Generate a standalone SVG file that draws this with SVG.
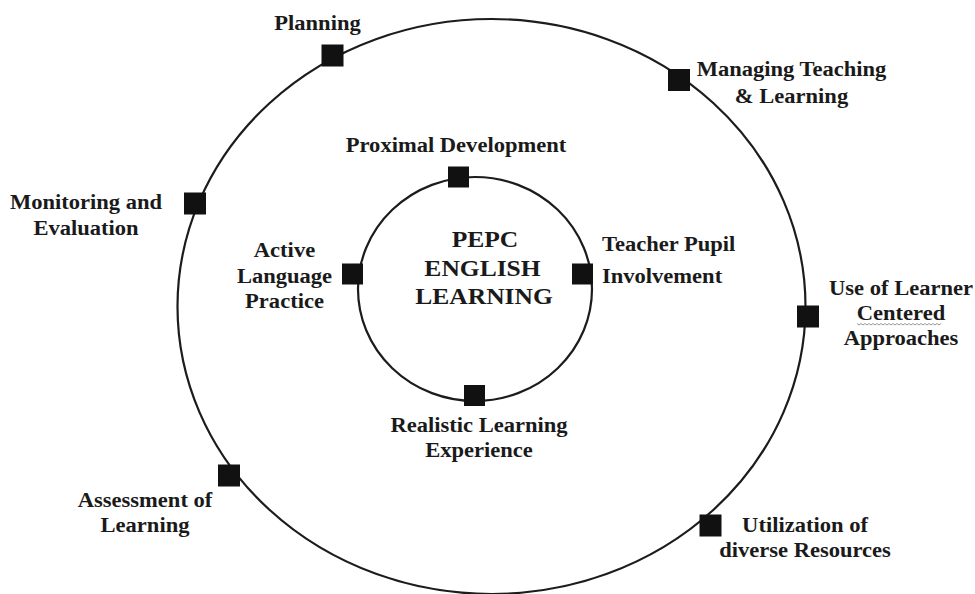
<svg xmlns="http://www.w3.org/2000/svg" width="975" height="594" viewBox="0 0 975 594">
<style>
  .ring { fill: none; stroke: #1c1c1c; stroke-width: 2.2; }
  .sq { fill: #111; }
  .lbl { font-family: "Liberation Serif", "Times New Roman", serif; font-weight: bold; font-size: 20.5px; fill: #1a1a1a; }
  .mid { text-anchor: middle; }
  .title { font-family: "Liberation Serif", "Times New Roman", serif; font-weight: bold; font-size: 23px; fill: #1a1a1a; text-anchor: middle; }
  .squig { fill: none; stroke: #8a8a8a; stroke-width: 0.9; }
</style>
<rect width="975" height="594" fill="#fff"/>
<g id="connectors">
  <ellipse class="ring" cx="491.5" cy="306.5" rx="314" ry="287.5"/>
  <ellipse class="ring" cx="475" cy="289" rx="117" ry="112"/>
</g>
<g id="center">
  <text class="title" transform="translate(485,0) scale(1.11,1)"><tspan x="0" y="247">PEPC</tspan></text>
  <text class="title" transform="translate(482.5,0) scale(1.11,1)"><tspan x="0" y="276">ENGLISH</tspan></text>
  <text class="title" transform="translate(484,0) scale(1.11,1)"><tspan x="0" y="304">LEARNING</tspan></text>
</g>
<g id="planning">
  <rect class="sq" x="321.5" y="44.5" width="22" height="22"/>
  <text class="lbl mid" transform="translate(317.5,0) scale(1.1,1)"><tspan x="0" y="30">Planning</tspan></text>
</g>
<g id="managing">
  <rect class="sq" x="668" y="69" width="22" height="22"/>
  <text class="lbl mid" transform="translate(791.5,0) scale(1.1,1)"><tspan x="0" y="76">Managing Teaching</tspan><tspan x="0" y="103">&amp; Learning</tspan></text>
</g>
<g id="monitoring">
  <rect class="sq" x="184" y="192.5" width="22" height="22"/>
  <text class="lbl mid" transform="translate(86,0) scale(1.1,1)"><tspan x="0" y="209">Monitoring and</tspan><tspan x="0" y="235">Evaluation</tspan></text>
</g>
<g id="learner-centered">
  <rect class="sq" x="797" y="305.5" width="22" height="22"/>
  <text class="lbl mid" transform="translate(901,0) scale(1.1,1)"><tspan x="0" y="295">Use of Learner</tspan><tspan x="0" y="320">Centered</tspan><tspan x="0" y="345">Approaches</tspan></text>
  <path class="squig" d="M857,323.5 l2,1.5 l2,-1.5 l2,1.5 l2,-1.5 l2,1.5 l2,-1.5 l2,1.5 l2,-1.5 l2,1.5 l2,-1.5 l2,1.5 l2,-1.5 l2,1.5 l2,-1.5 l2,1.5 l2,-1.5 l2,1.5 l2,-1.5 l2,1.5 l2,-1.5 l2,1.5 l2,-1.5 l2,1.5 l2,-1.5 l2,1.5 l2,-1.5 l2,1.5 l2,-1.5 l2,1.5 l2,-1.5 l2,1.5 l2,-1.5 l2,1.5 l2,-1.5 l2,1.5 l2,-1.5 l2,1.5 l2,-1.5 l2,1.5 l2,-1.5 l2,1.5 l2,-1.5"/>
</g>
<g id="assessment">
  <rect class="sq" x="218" y="464.5" width="22" height="22"/>
  <text class="lbl mid" transform="translate(145,0) scale(1.1,1)"><tspan x="0" y="507">Assessment of</tspan><tspan x="0" y="532">Learning</tspan></text>
</g>
<g id="utilization">
  <rect class="sq" x="699.5" y="514.5" width="22" height="22"/>
  <text class="lbl mid" transform="translate(805,0) scale(1.1,1)"><tspan x="0" y="532">Utilization of</tspan><tspan x="0" y="557">diverse Resources</tspan></text>
</g>
<g id="proximal">
  <rect class="sq" x="448" y="166.5" width="21" height="21"/>
  <text class="lbl mid" transform="translate(456,0) scale(1.1,1)"><tspan x="0" y="152">Proximal Development</tspan></text>
</g>
<g id="active-language">
  <rect class="sq" x="342" y="263.5" width="21" height="21"/>
  <text class="lbl mid" transform="translate(284.5,0) scale(1.1,1)"><tspan x="0" y="257">Active</tspan><tspan x="0" y="283">Language</tspan><tspan x="0" y="308">Practice</tspan></text>
</g>
<g id="teacher-pupil">
  <rect class="sq" x="572" y="263.5" width="21" height="21"/>
  <text class="lbl" transform="translate(602,0) scale(1.1,1)"><tspan x="0" y="251">Teacher Pupil</tspan><tspan x="0" y="283">Involvement</tspan></text>
</g>
<g id="realistic">
  <rect class="sq" x="464" y="385" width="21" height="21"/>
  <text class="lbl mid" transform="translate(479,0) scale(1.1,1)"><tspan x="0" y="432">Realistic Learning</tspan><tspan x="0" y="457">Experience</tspan></text>
</g>
</svg>
